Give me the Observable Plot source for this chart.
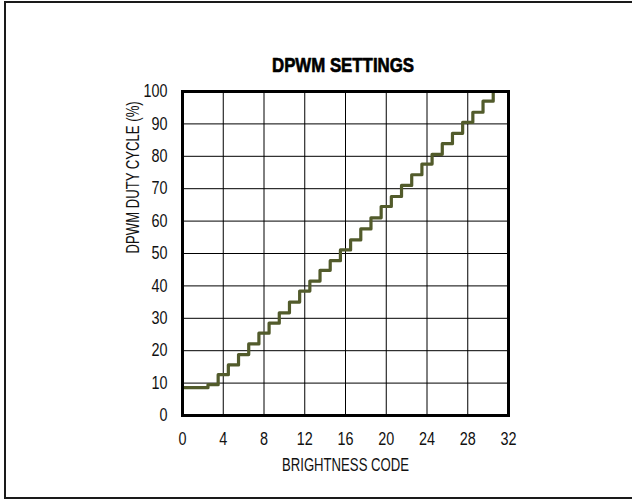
<!DOCTYPE html>
<html><head><meta charset="utf-8">
<script src="https://cdn.jsdelivr.net/npm/d3@7"></script>
<script src="https://cdn.jsdelivr.net/npm/@observablehq/plot@0.6"></script>
<style>
html,body{margin:0;padding:0;background:#fff;}
#wrap{position:relative;width:632px;height:499px;overflow:hidden;background:#fff;}
#chart{position:absolute;left:0;top:0;}
#border{position:absolute;left:4px;top:1px;width:640px;height:494px;border:2px solid #1a1a1a;}
</style></head><body>
<div id="wrap"><div id="chart"></div><div id="border"></div></div>
<script>
// Data
const titleText = "DPWM SETTINGS";
const xLabel = "BRIGHTNESS CODE";
const yLabel = "DPWM DUTY CYCLE (%)";
const brightnessCode = [0,1,2,3,4,5,6,7,8,9,10,11,12,13,14,15,16,17,18,19,20,21,22,23,24,25,26,27,28,29,30,31];
const dutyCycle = [8.6,8.6,8.6,9.5,12.6,15.6,18.8,22.1,25.4,28.5,31.7,35.0,38.4,41.5,44.8,47.8,51.1,54.2,57.6,61.0,64.5,67.6,71.0,74.3,77.6,80.6,83.9,87.1,90.5,93.6,97.0,100];
const xTicks = [0,4,8,12,16,20,24,28,32];
const yTicks = [0,10,20,30,40,50,60,70,80,90,100];
const xGrid = [4,8,12,16,20,24,28];
const yGrid = [10,20,30,40,50,60,70,80,90];

const rows = brightnessCode.map((c, i) => ({code: c, duty: dutyCycle[i]}));
const font = "'Liberation Sans', Arial, sans-serif";

const chart = Plot.plot({
  width: 632, height: 499,
  marginLeft: 182, marginRight: 124, marginTop: 91, marginBottom: 84,
  style: {fontFamily: font, fontSize: "17.5px", color: "#111", background: "transparent", overflow: "visible"},
  x: {domain: [0, 32], ticks: xTicks, tickSize: 0, tickPadding: 17, label: null, tickFormat: d => String(d)},
  y: {domain: [0, 100], ticks: yTicks, tickSize: 0, tickPadding: 15, label: null, tickFormat: d => String(d)},
  marks: [
    Plot.ruleX(xGrid, {stroke: "#000", strokeWidth: 1}),
    Plot.ruleY(yGrid, {stroke: "#000", strokeWidth: 1}),
    Plot.line(rows, {x: "code", y: "duty", curve: "step", stroke: "#525b2b", strokeWidth: 3.2}),
    Plot.frame({stroke: "#000", strokeWidth: 3}),
    Plot.text([titleText], {text: d => d, frameAnchor: "top", dy: -26.5, dx: -2.5, lineAnchor: "middle",
      fontSize: 21, fontWeight: "bold", fill: "#000", stroke: "#000", strokeWidth: 0.7}),
    Plot.text([xLabel], {text: d => d, frameAnchor: "bottom", dy: 49.5, lineAnchor: "middle", fontSize: 17.5, fill: "#111"}),
    Plot.text([yLabel], {text: d => d, frameAnchor: "left", dx: -49, rotate: -90, lineAnchor: "middle", fontSize: 17.5, fill: "#111"})
  ]
});
document.getElementById("chart").appendChild(chart);

// condense text to mimic the narrow typeface of the reference
const targets = {};
targets[titleText] = 142;
targets[xLabel] = 127;
chart.querySelectorAll("text").forEach(t => {
  const s = t.textContent;
  const w = t.getComputedTextLength();
  if (!w) return;
  let L;
  if (targets[s] != null) L = targets[s];
  else if (s === yLabel) L = w * 0.75;
  else L = w * 0.82;
  t.setAttribute("textLength", L.toFixed(1));
  t.setAttribute("lengthAdjust", "spacingAndGlyphs");
});
</script>
</body></html>
